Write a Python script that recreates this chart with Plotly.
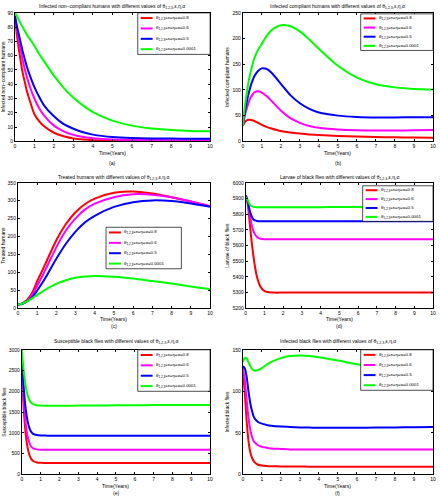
import plotly.graph_objects as go

W, H = 440, 500
FONT = "Liberation Sans, Arial, sans-serif"

# ---------------- data ----------------
T = [0, 0.1, 0.2, 0.3, 0.4, 0.5, 0.6, 0.8, 1.0, 1.25, 1.5, 2, 2.5, 3, 3.5, 4, 5, 6, 7, 8, 9, 10]

series_names = ["θ<sub>1,2,3</sub>=ε=η=α=0.8", "θ<sub>1,2,3</sub>=ε=η=α=0.6",
                "θ<sub>1,2,3</sub>=ε=η=α=0.5", "θ<sub>1,2,3</sub>=ε=η=α=0.0001"]
series_colors = ["#ff0000", "#ff00ff", "#0000ff", "#00ff00"]

# (a) infected non-compliant humans
a_red = [87, 75, 65, 56, 48, 42, 36, 27, 19, 14, 10.5, 6, 3.5, 2, 1.2, 0.8, 0.4, 0.3, 0.3, 0.3, 0.3, 0.3]
a_mag = [88, 79, 71, 64, 57, 51, 46, 37, 30, 23, 18, 11, 7, 4.5, 3, 2.2, 1.3, 1, 0.9, 0.8, 0.8, 0.8]
a_blu = [88, 81, 75, 69, 63, 58, 53, 45, 38, 31, 25, 17.5, 12, 8.8, 6.3, 4.7, 3, 2.3, 2, 1.9, 1.8, 1.8]
a_grn = [90, 88, 85, 82.5, 80, 77.5, 75, 71, 67, 61, 56, 46, 37.5, 30.5, 25, 20.5, 14.5, 11, 9, 8, 7.3, 7]

# (b) infected compliant humans
b_red = [30, 37, 40.5, 42, 42, 41, 39.5, 36, 32, 28, 25, 20, 17, 15, 13.5, 12.5, 10.5, 9.2, 8.3, 7.7, 7.3, 7]
b_mag = [30, 48, 63, 75, 84, 90, 95, 97.5, 95, 88, 79, 60, 45, 36, 30, 26.5, 23, 21.5, 21, 21, 21.5, 22]
b_blu = [30, 55, 75, 92, 106, 117, 126, 137, 142, 141, 134, 112, 90, 74, 63, 56, 50, 47.5, 46.5, 46.5, 47, 47]
b_grn = [30, 65, 92, 115, 133, 148, 161, 178, 190, 205, 216, 226, 224, 214, 198, 180, 147, 124, 111, 105, 102, 101]

# (c) treated humans
c_red = [10, 11, 13, 16, 20, 25, 31, 49, 75, 103, 132, 190, 235, 268, 291, 306, 322, 326, 320, 310, 298, 285]
c_mag = [10, 11, 12.5, 15, 18, 22, 27, 42, 62, 88, 115, 170, 217, 251, 276, 292, 310, 318, 317, 310, 298, 285]
c_blu = [10, 11, 12, 14, 16.5, 20, 24, 34, 49, 69, 91, 138, 180, 214, 240, 258, 283, 296, 301, 299, 292, 283]
c_grn = [10, 11, 12.5, 14.5, 17, 20, 23, 30, 37, 46, 54, 68, 78, 85, 89, 90, 88, 83, 76, 69, 61, 54]

# (d) larvae of black flies
d_red = [5920, 5870, 5760, 5640, 5540, 5460, 5400, 5335, 5310, 5302, 5300, 5300, 5300, 5300, 5300, 5300, 5300, 5300, 5300, 5300, 5300, 5300]
d_mag = [5920, 5880, 5810, 5740, 5695, 5670, 5655, 5643, 5640, 5640, 5640, 5640, 5640, 5640, 5640, 5640, 5640, 5640, 5640, 5640, 5640, 5640]
d_blu = [5920, 5885, 5830, 5790, 5768, 5760, 5757, 5755, 5755, 5755, 5755, 5755, 5755, 5755, 5755, 5755, 5755, 5755, 5755, 5755, 5755, 5755]
d_grn = [5910, 5890, 5865, 5852, 5848, 5846, 5845, 5845, 5845, 5845, 5845, 5845, 5845, 5845, 5845, 5845, 5846, 5846, 5847, 5847, 5847, 5847]

# (e) susceptible black flies
e_red = [2600, 1600, 1000, 660, 470, 370, 320, 285, 275, 272, 270, 270, 270, 270, 270, 270, 270, 270, 270, 270, 270, 270]
e_mag = [2700, 1800, 1250, 930, 760, 670, 625, 600, 592, 590, 590, 590, 590, 590, 590, 590, 590, 590, 590, 590, 590, 590]
e_blu = [2800, 2100, 1600, 1300, 1120, 1020, 975, 945, 935, 932, 930, 930, 930, 930, 930, 930, 930, 930, 930, 930, 930, 930]
e_grn = [3000, 2500, 2150, 1920, 1790, 1720, 1690, 1665, 1655, 1652, 1650, 1650, 1652, 1655, 1657, 1658, 1662, 1665, 1667, 1668, 1669, 1670]

# (f) infected black flies
f_red = [125, 100, 65, 40, 26, 19, 15, 11.5, 10.5, 10, 9.7, 9.5, 9.4, 9.3, 9.2, 9.2, 9.1, 9.1, 9, 9, 9, 9]
f_mag = [128, 115, 90, 68, 53, 44, 39, 35, 33, 32, 31, 30.5, 30, 30, 30, 30, 30, 30, 30, 30, 30, 30]
f_blu = [130, 128, 118, 100, 85, 75, 68, 63, 61, 59.5, 58.5, 57.5, 57, 56.5, 56.3, 56, 56, 56, 56.3, 56.5, 56.8, 57]
f_grn = [135, 140, 140, 135, 130, 126.5, 125, 125.5, 128, 132, 135.5, 140, 142.5, 143, 142.5, 141, 137, 132.5, 129, 127, 126, 125]

x_ticks = list(range(0, 11))

panels = [
    dict(key="a", data=[a_red, a_mag, a_blu, a_grn],
         title="Infected non−compliant humans with different values of θ<sub>1,2,3</sub>,ε,η,α",
         ytitle="Infected non−compliant humans", yrange=[0, 90], dtick=10,
         box=(14, 10, 211, 140), leg=(138, 10, 211, 52), title_y=4, xlab_y=151.5, cap_y=162),
    dict(key="b", data=[b_red, b_mag, b_blu, b_grn],
         title="Infected compliant humans with different values of θ<sub>1,2,3</sub>,ε,η,α",
         ytitle="Infected compliant humans", yrange=[0, 250], dtick=50,
         box=(244, 10, 436, 140), leg=(363, 11, 436, 48), title_y=4, xlab_y=151.5, cap_y=162),
    dict(key="c", data=[c_red, c_mag, c_blu, c_grn],
         title="Treated humans with different values of θ<sub>1,2,3</sub>,ε,η,α",
         ytitle="Treated humans", yrange=[0, 350], dtick=50,
         box=(17, 182, 211, 309), leg=(106, 227, 182, 269), title_y=177, xlab_y=320, cap_y=327),
    dict(key="d", data=[d_red, d_mag, d_blu, d_grn],
         title="Larvae of black flies with different values of θ<sub>1,2,3</sub>,ε,η,α",
         ytitle="Larvae of black flies", yrange=[5200, 6000], dtick=100,
         box=(247, 182, 436, 309), leg=(365, 185, 436, 221), title_y=177, xlab_y=320, cap_y=327),
    dict(key="e", data=[e_red, e_mag, e_blu, e_grn],
         title="Susceptible black flies with different values of θ<sub>1,2,3</sub>,ε,η,α",
         ytitle="Susceptible black flies", yrange=[0, 3000], dtick=500,
         box=(21, 351, 211, 477), leg=(138, 351, 211, 393), title_y=343, xlab_y=488.5, cap_y=495.5),
    dict(key="f", data=[f_red, f_mag, f_blu, f_grn],
         title="Infected black flies with different values of θ<sub>1,2,3</sub>,ε,η,α",
         ytitle="Infected black flies", yrange=[0, 150], dtick=50,
         box=(244, 351, 436, 477), leg=(363, 351, 436, 392), title_y=343, xlab_y=488.5, cap_y=495.5),
]


def px(x):
    return x / W


def py(y):
    return 1 - y / H


fig = go.Figure()
layout = dict(width=W, height=H, margin=dict(l=0, r=0, t=0, b=0),
              paper_bgcolor="white", plot_bgcolor="white", showlegend=False,
              font=dict(family=FONT, size=5, color="black"))
annotations = []
shapes = []

for i, p in enumerate(panels):
    n = "" if i == 0 else str(i + 1)
    xa, ya = "x" + n, "y" + n
    L, Tp, R, B = p["box"]
    for vals, name, col in zip(p["data"], series_names, series_colors):
        fig.add_trace(go.Scatter(x=T, y=vals, mode="lines", name=name,
                                 line=dict(color=col, width=2, shape="spline", smoothing=0.7),
                                 xaxis=xa, yaxis=ya, hoverinfo="skip"))
    axcommon = dict(showline=True, linecolor="black", linewidth=0.8, mirror="ticks",
                    ticks="inside", ticklen=2, tickwidth=0.6, tickcolor="black",
                    showgrid=False, zeroline=False,
                    tickfont=dict(family=FONT, size=5, color="black"))
    layout["xaxis" + n] = dict(axcommon, domain=[px(L), px(R)], anchor=ya, range=[0, 10],
                               tickvals=x_ticks)
    layout["yaxis" + n] = dict(axcommon, domain=[py(B), py(Tp)], anchor=xa,
                               range=p["yrange"], dtick=p["dtick"],
                               title=dict(text=p["ytitle"], font=dict(family=FONT, size=5),
                                          standoff=2))
    cx = (L + R) / 2
    annotations.append(dict(text=p["title"], x=px(cx), y=py(p["title_y"]), xref="paper",
                            yref="paper", showarrow=False, font=dict(size=5),
                            xanchor="center", yanchor="middle"))
    annotations.append(dict(text="Time(Years)", x=px(cx), y=py(p["xlab_y"]), xref="paper",
                            yref="paper", showarrow=False, font=dict(size=5),
                            xanchor="center", yanchor="middle"))
    annotations.append(dict(text="(" + p["key"] + ")", x=px(cx), y=py(p["cap_y"]), xref="paper",
                            yref="paper", showarrow=False, font=dict(size=5),
                            xanchor="center", yanchor="middle"))
    # legend box
    lL, lT, lR, lB = p["leg"]
    shapes.append(dict(type="rect", xref="paper", yref="paper", x0=px(lL), x1=px(lR),
                       y0=py(lB), y1=py(lT), line=dict(color="black", width=0.7),
                       fillcolor="white", layer="above"))
    step = (lB - lT) / 4
    for k, (name, col) in enumerate(zip(series_names, series_colors)):
        yy = lT + step * (k + 0.5)
        shapes.append(dict(type="line", xref="paper", yref="paper", x0=px(lL + 3),
                           x1=px(lL + 15), y0=py(yy), y1=py(yy),
                           line=dict(color=col, width=2), layer="above"))
        annotations.append(dict(text=name, x=px(lL + 16), y=py(yy), xref="paper",
                                yref="paper", showarrow=False, font=dict(size=4.4),
                                xanchor="left", yanchor="middle"))

layout["annotations"] = annotations
layout["shapes"] = shapes
fig.update_layout(**layout)
fig.write_html("out.html", config={"displayModeBar": False, "staticPlot": False},
               post_script="document.body.style.margin='0';document.body.style.overflow='hidden';")
